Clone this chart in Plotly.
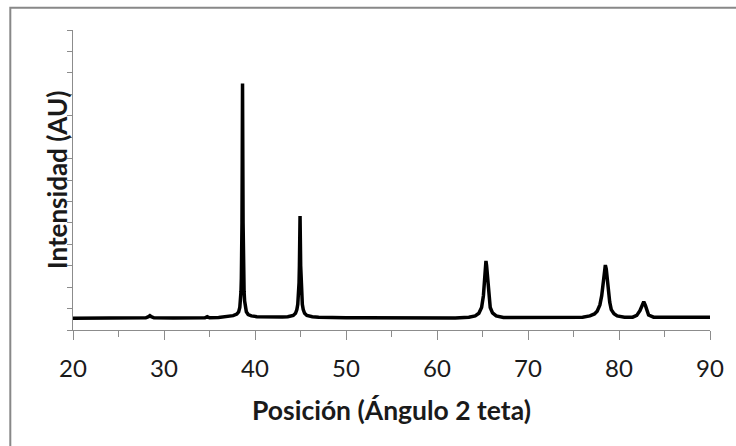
import plotly.graph_objects as go

# 2-theta positions (degrees) and intensity (arbitrary units)
two_theta = [
    20.0, 22.0, 24.0, 26.0, 28.0, 28.3, 28.45, 28.6, 28.9, 31.0, 33.0, 34.5, 34.75, 35.0,
    36.0, 37.0, 37.6,
    38.00, 38.20, 38.33, 38.40, 38.46, 38.50, 38.54, 38.57, 38.60, 38.63, 38.66, 38.69,
    38.72, 38.76, 38.80, 38.86, 38.93, 39.05, 39.25, 39.60, 40.20,
    41.0, 42.0, 43.0,
    43.60, 44.20, 44.45, 44.60, 44.70, 44.78, 44.84, 44.88, 44.92, 44.95, 44.98, 45.02,
    45.06, 45.12, 45.20, 45.30, 45.45, 45.70, 46.30,
    47.0, 48.0, 50.0, 52.0, 55.0, 58.0, 60.0,
    62.0, 63.5, 64.2, 64.6, 64.9, 65.10, 65.22, 65.32, 65.38, 65.45, 65.55, 65.68, 65.85,
    66.10, 66.50, 67.3,
    70.0, 72.0, 74.0,
    76.0, 76.8, 77.3, 77.6, 77.9, 78.10, 78.25, 78.38, 78.50, 78.60, 78.72, 78.85, 78.98,
    79.15, 79.45, 79.80, 80.60,
    81.5, 81.95, 82.30, 82.55, 82.72, 82.90, 83.05, 83.25, 83.80, 86.0, 90.0,
]
intensity = [
    0.55, 0.55, 0.55, 0.56, 0.57, 0.62, 0.67, 0.62, 0.57, 0.56, 0.56, 0.57, 0.62, 0.57,
    0.58, 0.62, 0.67,
    0.74, 0.84, 1.05, 1.35, 1.80, 2.40, 3.50, 5.00, 8.00, 11.50, 8.00, 5.00,
    3.50, 2.40, 1.80, 1.35, 1.05, 0.85, 0.72, 0.66, 0.62,
    0.61, 0.62, 0.61,
    0.62, 0.68, 0.78, 0.95, 1.20, 1.60, 2.20, 3.00, 4.30, 5.32, 4.30, 3.00,
    2.20, 1.60, 1.20, 0.95, 0.78, 0.68, 0.62,
    0.60, 0.58, 0.57, 0.57, 0.56, 0.56, 0.56,
    0.56, 0.60, 0.66, 0.78, 1.05, 1.60, 2.40, 3.00, 3.22, 3.00, 2.40, 1.60, 1.05,
    0.80, 0.66, 0.58,
    0.58, 0.58, 0.59,
    0.60, 0.66, 0.75, 0.88, 1.17, 1.60, 2.10, 2.80, 3.03, 2.85, 2.30, 1.70, 1.30,
    0.95, 0.76, 0.66, 0.60,
    0.60, 0.68, 0.90, 1.18, 1.32, 1.15, 0.90, 0.70, 0.60, 0.59, 0.60,
]

x_title = "Posición (Ángulo 2 teta)"
y_title = "Intensidad (AU)"

W, H = 736, 446
L, R, T, B = 73, 26, 30, 116
pw, ph = W - L - R, H - T - B

def px_x(p):
    return (p - L) / pw

def px_y(p):
    return (H - B - p) / ph

axis_col = "#8c8c8c"
font_fam = "Lato, 'Open Sans', sans-serif"

fig = go.Figure()
fig.add_trace(go.Scatter(
    x=two_theta, y=intensity, mode="lines",
    line=dict(color="#000000", width=3.5),
    hoverinfo="skip", showlegend=False,
))

fig.update_layout(
    width=W, height=H,
    margin=dict(l=L, r=R, t=T, b=B),
    paper_bgcolor="white", plot_bgcolor="white",
    font=dict(family=font_fam, color="#1a1a1a"),
    xaxis=dict(
        range=[20, 90], dtick=10, tick0=20,
        showline=True, linecolor=axis_col, linewidth=1,
        ticks="outside", ticklen=9, tickcolor=axis_col, tickwidth=1,
        showgrid=False, zeroline=False,
        ticklabelstandoff=8,
        tickfont=dict(size=24, family=font_fam, color="#1a1a1a"),
        minor=dict(dtick=5, tick0=20, ticks="outside", ticklen=6,
                   tickcolor=axis_col, tickwidth=1, showgrid=False),
    ),
    yaxis=dict(
        range=[0, 14], dtick=1, tick0=0,
        showline=True, linecolor=axis_col, linewidth=1,
        ticks="outside", ticklen=5, tickcolor=axis_col, tickwidth=1,
        showticklabels=False, showgrid=False, zeroline=False,
    ),
    shapes=[dict(
        type="rect", xref="paper", yref="paper",
        x0=px_x(10.3), x1=px_x(760), y0=px_y(470), y1=px_y(7.7),
        line=dict(color="#888888", width=2), fillcolor="rgba(0,0,0,0)",
        layer="below",
    )],
    annotations=[
        dict(text=f"<b>{x_title}</b>", xref="paper", yref="paper",
             x=0.5, y=px_y(410), xanchor="center", yanchor="middle",
             showarrow=False, font=dict(size=26.5, family=font_fam, color="#1a1a1a")),
        dict(text=f"<b>{y_title}</b>", xref="paper", yref="paper",
             x=px_x(57), y=0.5, xanchor="center", yanchor="middle", textangle=-90,
             showarrow=False, font=dict(size=26, family=font_fam, color="#1a1a1a")),
    ],
)

fig.write_html("out.html")
